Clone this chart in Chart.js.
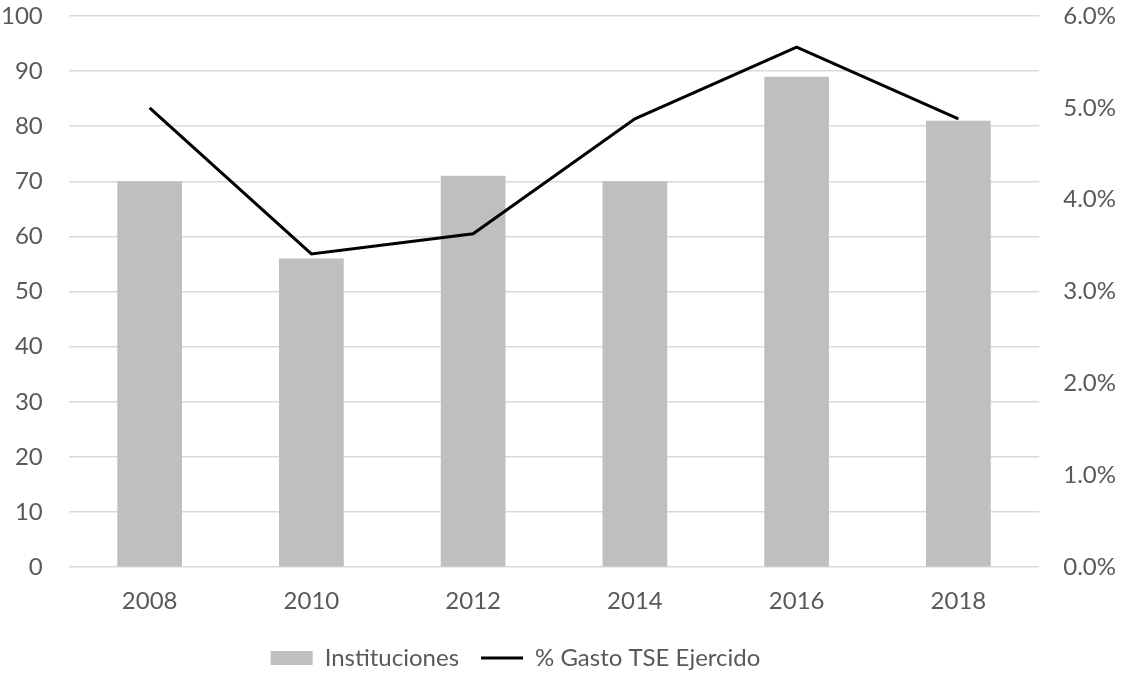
<!DOCTYPE html>
<html>
<head>
<meta charset="utf-8">
<script src="https://cdn.jsdelivr.net/npm/chart.js@4"></script>
<style>
  html, body { margin: 0; padding: 0; background: #ffffff; }
  #wrap { width: 1129px; height: 673px; }
</style>
</head>
<body>
<div id="wrap"><canvas id="myChart"></canvas></div>
<script>
var labels = ['2008', '2010', '2012', '2014', '2016', '2018'];
var instituciones = [70, 56, 71, 70, 89, 81];
var gastoTSE = [5.0, 3.41, 3.63, 4.88, 5.66, 4.88]; // percent

var textColor = '#595959';
var fontFamily = 'Lato, "DejaVu Sans", sans-serif';
var legendShift = -42;

// drop the automatic label overhang so the plot area follows layout.padding
function noVerticalPad(scale) {
  scale.paddingTop = 0;
  scale.paddingBottom = 0;
}

// nudge the legend row sideways after layout
var legendOffset = {
  id: 'legendOffset',
  afterLayout: function (chart) {
    if (chart.legend) {
      chart.legend.left += legendShift;
      chart.legend.right += legendShift;
    }
  }
};

var data = {
  labels: labels,
  datasets: [{
    type: 'bar',
    label: 'Instituciones',
    data: instituciones,
    backgroundColor: '#bfbfbf',
    borderWidth: 0,
    barPercentage: 0.4,
    categoryPercentage: 1.0,
    yAxisID: 'y',
    order: 2
  }, {
    type: 'line',
    label: '% Gasto TSE Ejercido',
    data: gastoTSE,
    borderColor: '#000000',
    backgroundColor: '#000000',
    borderWidth: 3,
    pointRadius: 0,
    pointHoverRadius: 0,
    tension: 0,
    yAxisID: 'y1',
    order: 1
  }]
};

var config = {
  type: 'bar',
  data: data,
  plugins: [legendOffset],
  options: {
    responsive: true,
    maintainAspectRatio: false,
    animation: false,
    layout: { autoPadding: false, padding: { left: -25, right: -11, top: 16, bottom: -7 } },
    plugins: {
      tooltip: { enabled: false },
      legend: {
        position: 'bottom',
        labels: {
          color: textColor,
          font: { family: fontFamily, size: 24 },
          usePointStyle: true,
          pointStyleWidth: 42,
          boxHeight: 14,
          padding: 22,
          sort: function (a, b) { return a.datasetIndex - b.datasetIndex; },
          generateLabels: function (chart) {
            var items = Chart.defaults.plugins.legend.labels.generateLabels(chart);
            items.forEach(function (it) {
              if (it.datasetIndex === 0) {
                it.pointStyle = 'rect';
                it.lineWidth = 0;
                it.fillStyle = '#bfbfbf';
              } else {
                it.pointStyle = 'line';
                it.lineWidth = 3;
                it.strokeStyle = '#000000';
              }
            });
            return items;
          }
        }
      }
    },
    scales: {
      x: {
        grid: { display: false },
        border: { display: false },
        ticks: {
          color: textColor,
          font: { family: fontFamily, size: 24 },
          padding: 12
        },
        afterFit: function (scale) {
          scale.paddingLeft = 0;
          scale.paddingRight = 0;
          scale.height -= 4;
        }
      },
      y: {
        position: 'left',
        min: 0,
        max: 100,
        ticks: {
          stepSize: 10,
          color: textColor,
          font: { family: fontFamily, size: 24 },
          padding: 26
        },
        grid: { color: '#d9d9d9', lineWidth: 1.5, drawTicks: false },
        border: { display: false },
        afterFit: noVerticalPad
      },
      y1: {
        position: 'right',
        min: 0,
        max: 6,
        ticks: {
          stepSize: 1,
          color: textColor,
          font: { family: fontFamily, size: 24 },
          padding: 24,
          callback: function (v) { return v.toFixed(1) + '%'; }
        },
        grid: { display: false, drawTicks: false },
        border: { display: false },
        afterFit: noVerticalPad
      }
    }
  }
};

var myChart = new Chart(document.getElementById('myChart'), config);
</script>
</body>
</html>
